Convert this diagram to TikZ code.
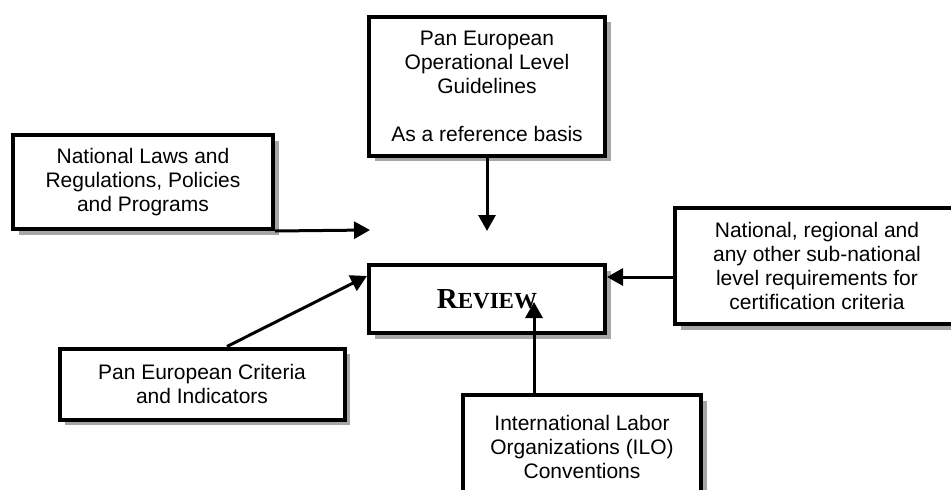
\documentclass[tikz,border=0pt]{standalone}
\usepackage{fontspec}
\setmainfont{Liberation Sans}
\newfontfamily\revfont{Liberation Serif}
\usetikzlibrary{arrows.meta,shadows}

\begin{document}
\begin{tikzpicture}[x=1pt,y=-1pt,
    box/.style={draw, line width=4pt, fill=white, inner sep=0pt, align=center,
      drop shadow={shadow xshift=5.5pt, shadow yshift=-5.5pt, fill=gray!70, opacity=1},
      font=\fontsize{21}{24}\selectfont},
    arr/.style={line width=3pt, -{Triangle[length=16pt,width=17pt]}}]
% cadre 951 x 490, y vers le bas
\useasboundingbox (0,0) rectangle (951,490);
\clip (0,0) rectangle (951,490);

% les cases
\node[box, minimum width=236, minimum height=139] (guide) at (487,86)
  {Pan European\\Operational Level\\Guidelines\\[24pt]As a reference basis};
\node[box, minimum width=260, minimum height=94] (laws) at (143,182)
  {National Laws and\\Regulations, Policies\\and Programs};
\node[box, minimum width=236, minimum height=68] (review) at (487,299)
  {\revfont\bfseries{\fontsize{29}{29}\selectfont R}{\fontsize{23}{23}\selectfont EVIEW}};
\node[box, minimum width=284, minimum height=116] (local) at (817,266)
  {National, regional and\\any other sub-national\\level requirements for\\certification criteria};
\node[box, minimum width=285, minimum height=71] (crit) at (202,384)
  {Pan European Criteria\\and Indicators};
\node[box, minimum width=238, minimum height=104] (ilo) at (582,447)
  {International Labor\\Organizations (ILO)\\Conventions};

% les fleches
\coordinate (gend) at (487,231);
\coordinate (lend) at (370,230);
\coordinate (iend) at (534,302);
\coordinate (cstart) at ([xshift=25pt]crit.north);
\coordinate (rstart) at ([yshift=-11pt]local.west);
\draw[arr] (guide) -- (gend);
\draw[arr] (laws.south east) -- (lend);
\draw[arr] (cstart) -- ([yshift=-13pt]review.north west);
\draw[arr] (rstart) -- (rstart -| review.east);
\draw[arr] (ilo.north -| iend) -- (iend);
\end{tikzpicture}
\end{document}
